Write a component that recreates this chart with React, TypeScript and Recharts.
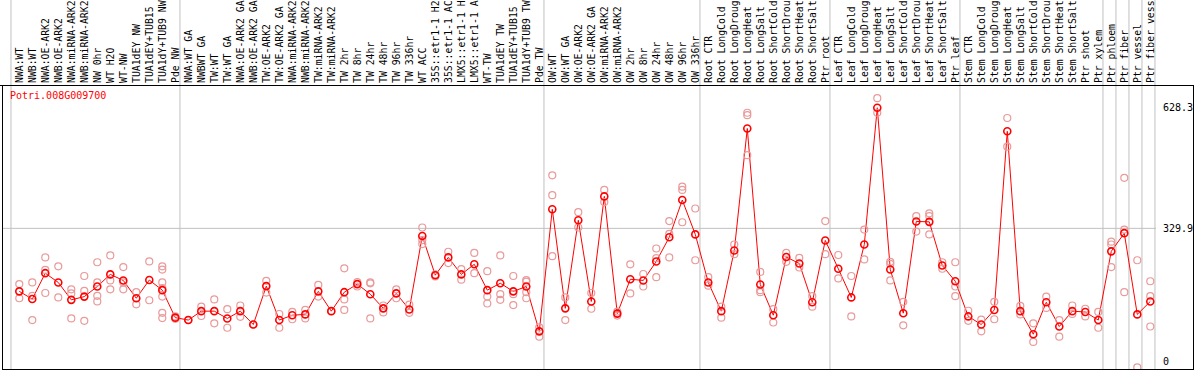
import {
  ComposedChart,
  Line,
  Scatter,
  XAxis,
  YAxis,
  ReferenceLine,
} from "recharts";

const geneId = "Potri.008G009700";

const categories = [
  "NWA:WT", "NWB:WT", "NWA:OE-ARK2", "NWB:OE-ARK2", "NWA:miRNA-ARK2", "NWB:miRNA-ARK2",
  "NW 0hr", "WT H2O", "WT-NW", "TUA1dEY NW", "TUA1dEY+TUB15 NW", "TUA1dY+TUB9 NW", "Pde NW",
  "NWA:WT GA", "NWBWT GA", "TW:WT", "TW:WT GA", "NWA:OE-ARK2 GA", "NWB:OE-ARK2 GA",
  "TW:OE-ARK2", "TW:OE-ARK2 GA", "NWA:miRNA-ARK2 GA", "NWB:miRNA-ARK2 GA", "TW:miRNA-ARK2",
  "TW:miRNA-ARK2 GA", "TW 2hr", "TW 8hr", "TW 24hr", "TW 48hr", "TW 96hr", "TW 336hr", "WT ACC",
  "35S::etr1-1 H2O", "35S::etr1-1 ACC", "LMX5::etr1-1 H2O", "LMX5::etr1-1 ACC", "WT-TW",
  "TUA1dEY TW", "TUA1dEY+TUB15 TW", "TUA1dY+TUB9 TW", "Pde TW",
  "OW:WT", "OW:WT GA", "OW:OE-ARK2", "OW:OE-ARK2 GA", "OW:miRNA-ARK2", "OW:miRNA-ARK2 GA",
  "OW 2hr", "OW 8hr", "OW 24hr", "OW 48hr", "OW 96hr", "OW 336hr",
  "Root CTR", "Root LongCold", "Root LongDrought", "Root LongHeat", "Root LongSalt",
  "Root ShortCold", "Root ShortDrought", "Root ShortHeat", "Root ShortSalt", "Ptr root",
  "Leaf CTR", "Leaf LongCold", "Leaf LongDrought", "Leaf LongHeat", "Leaf LongSalt",
  "Leaf ShortCold", "Leaf ShortDrought", "Leaf ShortHeat", "Leaf ShortSalt", "Ptr leaf",
  "Stem CTR", "Stem LongCold", "Stem LongDrought", "Stem LongHeat", "Stem LongSalt",
  "Stem ShortCold", "Stem ShortDrought", "Stem ShortHeat", "Stem ShortSalt", "Ptr shoot",
  "Ptr xylem", "Ptr phloem", "Ptr fiber", "Ptr vessel", "Ptr fiber vessel",
];

// number of samples in each block between the grey separators
const groupSizes = [13, 28, 12, 10, 10, 11, 1, 1, 1, 1];

const means = [
  174, 155, 219, 196, 153, 161, 186, 216, 201, 157, 202, 177, 109,
  103, 125, 125, 107, 125, 92, 187, 103, 115, 117, 174, 125, 172, 192, 167, 132, 169, 129,
  311, 214, 258, 216, 241, 177, 194, 174, 186, 75,
  377, 132, 350, 149, 409, 119, 204, 201, 248, 308, 400, 315,
  196, 125, 275, 577, 191, 115, 259, 243, 147, 300,
  230, 159, 290, 628.3, 228, 120, 347, 346, 238, 199,
  112, 92, 128, 570, 125, 68, 147, 87, 125, 123, 103,
  273, 318, 117, 149,
];

const replicates = [
  [192, 157], [196, 163, 103], [258, 227, 170], [236, 159], [179, 169, 107], [212, 175, 101],
  [246, 196, 163, 149], [263, 201, 179], [234, 196, 179], [172, 142], [248, 152],
  [236, 228, 196, 182, 161, 121, 108], [112, 106],
  [103], [136, 113], [154, 95], [130, 84], [139, 111], [92], [200, 171], [118, 84], [123, 105],
  [128, 107], [190, 161], [125], [231, 154, 128], [197, 186], [196, 194, 107], [139, 122],
  [179, 157], [141, 121], [332, 301, 291], [216, 211], [272, 244], [229, 203], [269, 219],
  [224, 161, 144], [263, 167, 153], [212, 167, 140], [202, 198, 172, 157], [85, 62],
  [461, 412, 261], [159, 103], [370, 332], [170, 131], [425, 395], [124, 114], [241, 169],
  [217, 186], [280, 256, 209], [348, 316, 258], [433, 425, 345], [379, 251],
  [209, 188], [136, 109], [290, 266], [616, 610, 511], [222, 177, 172], [130, 97], [269, 247],
  [257, 233], [162, 136], [348, 266],
  [264, 206], [212, 112], [327, 253], [652, 616], [247, 242, 201], [148, 90], [360, 322],
  [367, 360, 315], [246, 230], [246, 186, 162],
  [126, 101], [104, 75], [148, 105], [603, 532], [138, 117], [95, 49], [161, 133], [103, 62],
  [139, 118], [131, 112], [123, 84],
  [297, 290, 234], [455, 327, 172], [251, -14], [199, 162, 87],
];

const yTicks = [0, 329.9, 628.3];

// the header only has room for this many characters per sample name
const LABEL_CHARS = 14;

const meanData = means.map((m, i) => ({ i, mean: m }));
const repData = replicates.flatMap((vals, i) => vals.map((v) => ({ i, v })));
const boundaries = groupSizes
  .reduce((acc, n) => [...acc, acc[acc.length - 1] + n], [0])
  .map((e) => e - 1 + 0.36);

const FONT = '"DejaVu Sans Mono", "Liberation Mono", monospace';
const RED = "#ff0000";
const PINK = "#e99a9a";
const GRID = "#c0c0c0";

const CatTick = (props: any) => {
  const { x, y, payload } = props;
  return (
    <text
      x={x}
      y={y}
      transform={`rotate(-90, ${x}, ${y})`}
      dy="0.35em"
      textAnchor="start"
      fontFamily={FONT}
      fontSize={9.8}
      fill="#000"
    >
      {categories[payload.value].slice(0, LABEL_CHARS).trimEnd()}
    </text>
  );
};

const ValueTick = (props: any) => {
  const { x, y, payload } = props;
  return (
    <text x={x} y={y} dy="0.35em" textAnchor="start" fontFamily={FONT} fontSize={10} fill="#000">
      {String(payload.value)}
    </text>
  );
};

const RepDot = (props: any) => (
  <circle cx={props.cx} cy={props.cy} r={3.5} fill="none" stroke={PINK} strokeWidth={1.2} />
);

export default function App() {
  return (
    <div style={{ position: "absolute", left: 0, top: 0, width: 1194, height: 370, background: "#fff" }}>
      <ComposedChart
        width={1194}
        height={370}
        data={meanData}
        margin={{ top: 0, right: 0, bottom: 1, left: 2 }}
      >
        <XAxis
          dataKey="i"
          type="number"
          orientation="top"
          domain={[-1.33, 87.44]}
          allowDataOverflow
          ticks={categories.map((_, i) => i)}
          interval={0}
          height={85}
          axisLine={false}
          tickLine={false}
          tickSize={0}
          tickMargin={2}
          tick={<CatTick />}
        />
        <YAxis
          orientation="right"
          type="number"
          domain={[-18.1, 684.6]}
          allowDataOverflow
          ticks={yTicks}
          interval={0}
          width={38}
          axisLine={false}
          tickLine={false}
          tickSize={0}
          tickMargin={7}
          tick={<ValueTick />}
        />
        <ReferenceLine y={329.9} stroke={GRID} strokeWidth={1} />
        {boundaries.map((b) => (
          <ReferenceLine
            key={b}
            x={b}
            stroke={GRID}
            shape={(p: any) => (
              <line
                x1={p.x1}
                x2={p.x2}
                y1={0}
                y2={Math.max(p.y1, p.y2)}
                stroke={GRID}
                strokeWidth={1}
              />
            )}
          />
        ))}
        <Scatter data={repData} dataKey="v" shape={<RepDot />} isAnimationActive={false} />
        <Line
          type="linear"
          dataKey="mean"
          stroke={RED}
          strokeWidth={1}
          dot={{ r: 3.5, stroke: RED, strokeWidth: 1.6, fill: "none" }}
          isAnimationActive={false}
        />
      </ComposedChart>
      <div
        style={{
          position: "absolute",
          left: 10,
          top: 91,
          color: RED,
          fontFamily: FONT,
          fontSize: 10,
          lineHeight: "10px",
        }}
      >
        {geneId}
      </div>
      <div style={{ position: "absolute", left: 0, top: 85, width: 1194, height: 1, background: "#000" }} />
      <div
        style={{
          position: "absolute",
          left: 2,
          top: 85,
          width: 1192,
          height: 285,
          boxSizing: "border-box",
          borderLeft: "1px solid #000",
          borderRight: "1px solid #000",
          borderBottom: "1px solid #000",
        }}
      />
    </div>
  );
}
